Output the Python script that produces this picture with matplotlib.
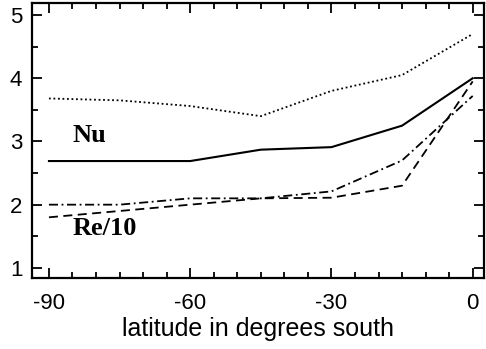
import matplotlib
matplotlib.use('Agg')
import matplotlib.pyplot as plt
from matplotlib.ticker import MultipleLocator

plt.rcParams['font.family'] = ['Liberation Sans', 'DejaVu Sans']
plt.rcParams['axes.unicode_minus'] = False

# latitude (degrees south)
lat = [-90, -75, -60, -45, -30, -15, 0]

# curves
dotted = [3.68, 3.65, 3.56, 3.40, 3.80, 4.05, 4.70]
nu = [2.69, 2.69, 2.69, 2.87, 2.91, 3.25, 4.00]
dashdot = [2.00, 2.00, 2.10, 2.10, 2.21, 2.70, 3.72]
re10 = [1.80, 1.90, 2.00, 2.10, 2.11, 2.30, 3.95]

fig = plt.figure(figsize=(4.86, 3.49), dpi=100)
ax = fig.add_axes([32/486, 1 - 278/349, 452/486, 275/349])

ax.plot(lat, dotted, color='black', lw=1.3, ls=(0, (1, 1.5)))
ax.plot(lat, nu, color='black', lw=1.5, ls='-')
ax.plot(lat, dashdot, color='black', lw=1.3, ls=(0, (5, 2, 1, 2)))
ax.plot(lat, re10, color='black', lw=1.3, ls=(0, (5, 3)))

ax.text(-85, 2.99, 'Nu', fontsize=19, fontweight='bold', family='Liberation Serif')
ax.text(-85, 1.52, 'Re/10', fontsize=19, fontweight='bold', family='Liberation Serif')

ax.set_xlim(-93.6, 2.4)
ax.set_ylim(0.84, 5.19)
ax.set_xticks([-90, -60, -30, 0])
ax.set_yticks([1, 2, 3, 4, 5])
ax.xaxis.set_minor_locator(MultipleLocator(5))
ax.yaxis.set_minor_locator(MultipleLocator(0.5))
ax.tick_params(which='both', direction='in', top=True, right=True, width=1.3)
ax.tick_params(which='major', length=7, labelsize=16)
ax.tick_params(axis='x', which='major', pad=11)
ax.tick_params(axis='y', which='major', pad=7)
ax.tick_params(which='minor', length=4)
for s in ax.spines.values():
    s.set_linewidth(1.6)

ax.set_xlabel('latitude in degrees south', fontsize=18, labelpad=2)

fig.savefig('out.png', dpi=100)
